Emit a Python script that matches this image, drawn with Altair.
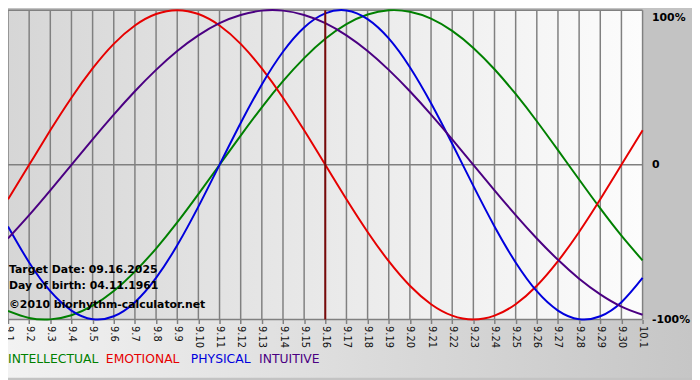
import altair as alt
import pandas as pd

# ---- data ----
dates = ["9.1", "9.2", "9.3", "9.4", "9.5", "9.6", "9.7", "9.8", "9.9", "9.10",
         "9.11", "9.12", "9.13", "9.14", "9.15", "9.16", "9.17", "9.18", "9.19", "9.20",
         "9.21", "9.22", "9.23", "9.24", "9.25", "9.26", "9.27", "9.28", "9.29", "9.30", "10.1"]

intellectual = [-0.945, -0.990, -0.999, -0.972, -0.910, -0.815, -0.690, -0.541, -0.372, -0.189,
                0.000, 0.189, 0.372, 0.541, 0.690, 0.815, 0.910, 0.972, 0.999, 0.990,
                0.945, 0.866, 0.756, 0.618, 0.458, 0.282, 0.095, -0.095, -0.282, -0.458, -0.618]
emotional = [-0.223, 0.000, 0.223, 0.434, 0.623, 0.782, 0.901, 0.975, 1.000, 0.975,
             0.901, 0.782, 0.623, 0.434, 0.223, 0.000, -0.223, -0.434, -0.623, -0.782,
             -0.901, -0.975, -1.000, -0.975, -0.901, -0.782, -0.623, -0.434, -0.223, 0.000, 0.223]
physical = [-0.398, -0.631, -0.817, -0.942, -0.998, -0.979, -0.888, -0.731, -0.520, -0.270,
            0.000, 0.270, 0.520, 0.731, 0.888, 0.979, 0.998, 0.942, 0.817, 0.631,
            0.398, 0.136, -0.136, -0.398, -0.631, -0.817, -0.942, -0.998, -0.979, -0.888, -0.731]
intuitive = [-0.476, -0.325, -0.165, 0.000, 0.165, 0.325, 0.476, 0.614, 0.736, 0.837,
             0.916, 0.969, 0.997, 0.997, 0.969, 0.916, 0.837, 0.736, 0.614, 0.476,
             0.325, 0.165, 0.000, -0.165, -0.325, -0.476, -0.614, -0.736, -0.837, -0.916, -0.969]

series_names = ["INTELLECTUAL", "EMOTIONAL", "PHYSICAL", "INTUITIVE"]
series_colors = ["#008000", "#e60000", "#0000dd", "#4b0082"]
y_ticks = [1, 0, -1]
y_labels = ["100%", "0", "-100%"]
target_date = "9.16"
info_lines = ["Target Date: 09.16.2025", "Day of birth: 04.11.1961", "\u00a92010 biorhythm-calculator.net"]

W, H = 642, 313
FULL_W, FULL_H = 692, 372

rows = []
for name, vals in zip(series_names, [intellectual, emotional, physical, intuitive]):
    for d, v in zip(dates, vals):
        rows.append({"date": d, "value": v, "series": name})
df = pd.DataFrame(rows)

xscale = alt.Scale(type="point", domain=dates, padding=0)
yscale = alt.Scale(domain=[-1, 1], nice=False, zero=False)

label_expr = " : ".join(
    f"datum.value == {v} ? '{l}'" for v, l in zip(y_ticks[:-1], y_labels[:-1])
) + f" : '{y_labels[-1]}'"

xaxis = alt.Axis(orient="bottom", title=None, labelAngle=90,
                 labelFont="DejaVu Sans", labelFontSize=10, labelColor="#111111",
                 labelPadding=2, ticks=True, tickSize=4, tickColor="#808080",
                 tickWidth=1.5, domain=False, grid=False, labelOverlap=False, zindex=2)
yaxis = alt.Axis(orient="right", title=None, values=y_ticks, labelExpr=label_expr,
                 labelFont="DejaVu Sans", labelFontSize=11, labelFontWeight="bold",
                 labelColor="#000000", labelPadding=9, labelAlign="left",
                 labelOffset={"condition": {"test": "datum.value == 1", "value": 7}, "value": 0},
                 ticks=False, domain=False, grid=False, zindex=2)

one = pd.DataFrame({"a": [0]})

plot_bg = alt.Chart(one).mark_rect(
    color=alt.LinearGradient(
        gradient="linear",
        stops=[alt.GradientStop(color="#d6d6d6", offset=0),
               alt.GradientStop(color="#fcfcfc", offset=1)],
        x1=0, x2=1, y1=0, y2=0)
).encode(x=alt.value(0), x2=alt.value(W), y=alt.value(0), y2=alt.value(H))

bottom_bg = alt.Chart(one).mark_rect(
    color=alt.LinearGradient(
        gradient="linear",
        stops=[alt.GradientStop(color="#f2f2f2", offset=0),
               alt.GradientStop(color="#c6c6c6", offset=1)],
        x1=0, x2=1, y1=0, y2=0)
).encode(x=alt.value(0), x2=alt.value(FULL_W), y=alt.value(H), y2=alt.value(FULL_H))

vgrid = alt.Chart(pd.DataFrame({"date": dates})).mark_rule(
    color="#808080", strokeWidth=1.5
).encode(x=alt.X("date:O", scale=xscale, sort=dates, axis=xaxis))

hgrid = alt.Chart(pd.DataFrame({"value": y_ticks})).mark_rule(
    color="#808080", strokeWidth=1.5
).encode(y=alt.Y("value:Q", scale=yscale, axis=yaxis))

target = alt.Chart(pd.DataFrame({"date": [target_date]})).mark_rule(
    color="#7a0a0a", strokeWidth=2
).encode(x=alt.X("date:O", scale=xscale, sort=dates, axis=xaxis))

lines = alt.Chart(df).mark_line(strokeWidth=2, interpolate="natural").encode(
    x=alt.X("date:O", scale=xscale, sort=dates, axis=xaxis),
    y=alt.Y("value:Q", scale=yscale, axis=yaxis),
    color=alt.Color("series:N", scale=alt.Scale(domain=series_names, range=series_colors), legend=None),
    detail="series:N",
)

info_y = [263, 279, 298]
info = [
    alt.Chart(one).mark_text(text=t, align="left", baseline="middle", font="DejaVu Sans",
                             fontSize=11, fontWeight="bold", color="#000000")
    .encode(x=alt.value(1), y=alt.value(yy))
    for t, yy in zip(info_lines, info_y)
]

legend_x = [0, 99, 185, 254]
legend = [
    alt.Chart(one).mark_text(text=n, align="left", baseline="middle", font="DejaVu Sans",
                             fontSize=12.5, color=c)
    .encode(x=alt.value(lx), y=alt.value(353))
    for n, c, lx in zip(series_names, series_colors, legend_x)
]

chart = alt.layer(plot_bg, bottom_bg, vgrid, hgrid, lines, target, *info, *legend).properties(
    width=W, height=H,
    autosize=alt.AutoSizeParams(type="none"),
    padding={"left": 0, "top": 0, "right": 50, "bottom": 59},
    background="#c3c3c3",
).configure_view(stroke=None)

chart.save("out.html", embed_options={"renderer": "svg", "actions": False})
